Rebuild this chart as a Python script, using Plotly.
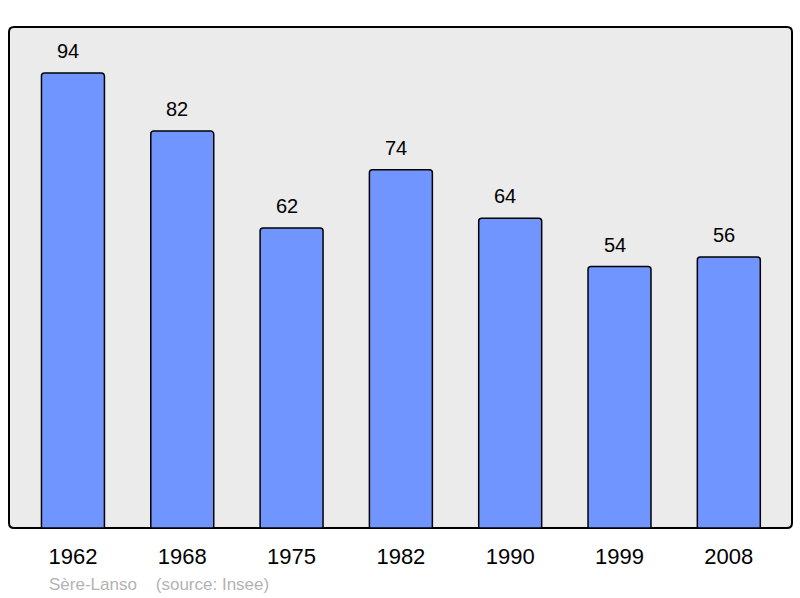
import plotly.graph_objects as go

years = ["1962", "1968", "1975", "1982", "1990", "1999", "2008"]
population = [94, 82, 62, 74, 64, 54, 56]
source_text = "Sère-Lanso    (source: Insee)"

W, H = 800, 598
ml, mr, mt, mb = 9, 8, 27, 70
pw, ph = W - ml - mr, H - mt - mb
FONT = "Liberation Sans, Arial, sans-serif"

fig = go.Figure()
fig.add_trace(go.Bar(
    x=years, y=population,
    width=0.576,
    marker=dict(color="#7095ff", line=dict(color="#000000", width=1.5), cornerradius=3),
    hoverinfo="x+y",
))

for i, v in enumerate(population):
    fig.add_annotation(x=i, y=v, text=str(v), showarrow=False, yshift=22, xshift=-5,
                       xref="x", yref="y",
                       font=dict(size=20, color="#000000", family=FONT))

fig.add_annotation(xref="paper", yref="paper", x=(47 - ml) / pw, y=-(584 - mt - ph) / ph,
                   xanchor="left", yanchor="middle", showarrow=False, text=source_text,
                   font=dict(size=17, color="#b3b3b3", family=FONT))

# rounded frame
r = 5
rx, ry = r / pw, r / ph
path = (f"M {rx},0 L {1-rx},0 Q 1,0 1,{ry} L 1,{1-ry} Q 1,1 {1-rx},1 "
        f"L {rx},1 Q 0,1 0,{1-ry} L 0,{ry} Q 0,0 {rx},0 Z")
fig.add_shape(type="path", xref="paper", yref="paper", path=path,
              fillcolor="#ebebeb", line=dict(color="#000000", width=2), layer="below")

fig.update_layout(
    width=W, height=H,
    margin=dict(l=ml, r=mr, t=mt, b=mb),
    paper_bgcolor="#ffffff", plot_bgcolor="rgba(0,0,0,0)",
    showlegend=False,
    font=dict(family=FONT),
    xaxis=dict(type="category", range=[-0.585, 6.578], showgrid=False, zeroline=False,
               showline=False, ticks="outside", ticklen=9, tickcolor="rgba(0,0,0,0)",
               tickfont=dict(size=22, color="#000000")),
    yaxis=dict(range=[0, 103.5], showgrid=False, zeroline=False, showline=False,
               showticklabels=False, ticks=""),
)

fig.write_html("out.html", config={"displayModeBar": False})
with open("out.html", "r", encoding="utf-8") as f:
    html = f.read()
html = html.replace("<body>", '<body style="margin:0;padding:0;">', 1)
with open("out.html", "w", encoding="utf-8") as f:
    f.write(html)
